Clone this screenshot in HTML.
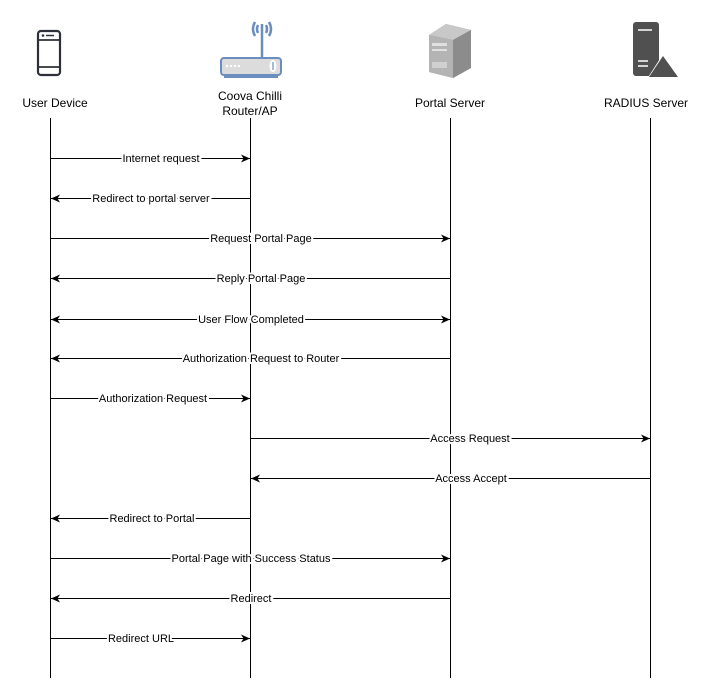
<!DOCTYPE html>
<html><head><meta charset="utf-8"><style>
html,body{margin:0;padding:0;background:#fff;}
svg{display:block;font-family:"Liberation Sans",sans-serif;}
</style></head><body>
<svg width="710" height="700" viewBox="0 0 710 700" xmlns="http://www.w3.org/2000/svg">
<defs>
<marker id="a" markerWidth="10" markerHeight="8" refX="9" refY="4" orient="auto" markerUnits="userSpaceOnUse">
<path d="M0,0 L9,4 L0,8 L2.5,4 Z" fill="#000"/>
</marker>
<marker id="b" markerWidth="10" markerHeight="8" refX="1" refY="4" orient="auto" markerUnits="userSpaceOnUse">
<path d="M10,0 L1,4 L10,8 L7.5,4 Z" fill="#000"/>
</marker>
</defs>
<!-- icons -->
<!-- phone -->
<rect x="38" y="31" width="22" height="44" rx="3" fill="none" stroke="#2d3038" stroke-width="2.2"/>
<line x1="38" y1="40" x2="60" y2="40" stroke="#2d3038" stroke-width="1.8"/>
<line x1="38" y1="67" x2="60" y2="67" stroke="#2d3038" stroke-width="1.8"/>
<circle cx="43" cy="35.5" r="1.3" fill="#2d3038"/>
<line x1="46" y1="35.5" x2="54" y2="35.5" stroke="#2d3038" stroke-width="1.5"/>
<!-- router -->
<line x1="262" y1="24" x2="262" y2="58" stroke="#6c8ebf" stroke-width="2.5"/>
<path d="M255,22 Q251,29 255,36 M269,22 Q273,29 269,36 M258,25 Q256,29 258,33 M266,25 Q268,29 266,33" stroke="#6c8ebf" stroke-width="2.5" fill="none"/>
<rect x="221" y="58" width="60" height="17" rx="3" fill="#dcdcdc" stroke="#6c8ebf" stroke-width="2"/>
<rect x="224" y="75" width="54" height="3" fill="#6c8ebf"/>
<circle cx="227" cy="66" r="1.2" fill="#fff"/><circle cx="231" cy="66" r="1.2" fill="#fff"/><circle cx="235" cy="66" r="1.2" fill="#fff"/><circle cx="239" cy="66" r="1.2" fill="#fff"/>
<ellipse cx="273" cy="66" rx="3.5" ry="6" fill="#fff"/>
<line x1="273" y1="62" x2="273" y2="70" stroke="#6c8ebf" stroke-width="1.2"/>
<!-- portal server -->
<polygon points="429,35 446,24 471,30 471,68 453,78 429,72" fill="#9a9a9a"/>
<polygon points="429,35 446,24 471,30 453,40" fill="#c8c8c8"/>
<polygon points="429,35 453,40 453,78 429,72" fill="#b4b4b4"/>
<polygon points="453,40 471,30 471,68 453,78" fill="#8c8c8c"/>
<rect x="432" y="43" width="15" height="3" fill="#e0e0e0"/>
<rect x="432" y="49" width="15" height="2" fill="#e0e0e0"/>
<rect x="432" y="62" width="15" height="6" fill="#d0d0d0"/>
<!-- radius -->
<rect x="633" y="22" width="26" height="54" rx="3" fill="#505050"/>
<line x1="638" y1="30" x2="652" y2="30" stroke="#fff" stroke-width="1.5"/>
<line x1="638" y1="61" x2="648" y2="61" stroke="#fff" stroke-width="1.5"/>
<line x1="638" y1="66" x2="648" y2="66" stroke="#fff" stroke-width="1.5"/>
<polygon points="663,54 647,79 679,79" fill="#fff"/>
<polygon points="663,56 649,77 678,77" fill="#505050"/>
<!-- headers -->
<g font-size="12" text-anchor="middle" fill="#000">
<text x="55" y="107">User Device</text>
<text x="250" y="100">Coova Chilli</text>
<text x="250" y="115">Router/AP</text>
<text x="450" y="107">Portal Server</text>
<text x="646" y="107">RADIUS Server</text>
</g>
<!-- lifelines -->
<g stroke="#000" stroke-width="1">
<line x1="50.5" y1="118" x2="50.5" y2="678"/>
<line x1="250.5" y1="118" x2="250.5" y2="678"/>
<line x1="450.5" y1="118" x2="450.5" y2="678"/>
<line x1="650.5" y1="118" x2="650.5" y2="678"/>
</g>
<!-- messages -->
<g stroke="#000" stroke-width="1" fill="none">
<line x1="51" y1="158.5" x2="250" y2="158.5" marker-end="url(#a)"/>
<line x1="250" y1="198.5" x2="51" y2="198.5" marker-end="url(#a)"/>
<line x1="51" y1="238.5" x2="450" y2="238.5" marker-end="url(#a)"/>
<line x1="450" y1="278.5" x2="51" y2="278.5" marker-end="url(#a)"/>
<line x1="51" y1="319.5" x2="450" y2="319.5" marker-start="url(#b)" marker-end="url(#a)"/>
<line x1="450" y1="358.5" x2="51" y2="358.5" marker-end="url(#a)"/>
<line x1="51" y1="398.5" x2="250" y2="398.5" marker-end="url(#a)"/>
<line x1="251" y1="438.5" x2="650" y2="438.5" marker-end="url(#a)"/>
<line x1="650" y1="478.5" x2="251" y2="478.5" marker-end="url(#a)"/>
<line x1="250" y1="518.5" x2="51" y2="518.5" marker-end="url(#a)"/>
<line x1="51" y1="558.5" x2="450" y2="558.5" marker-end="url(#a)"/>
<line x1="450" y1="598.5" x2="51" y2="598.5" marker-end="url(#a)"/>
<line x1="51" y1="638.5" x2="250" y2="638.5" marker-end="url(#a)"/>
</g>
<g font-size="11" text-anchor="middle" fill="#000" stroke="#fff" stroke-width="4" paint-order="stroke">
<text x="161" y="162">Internet request</text>
<text x="151" y="202">Redirect to portal server</text>
<text x="261" y="242">Request Portal Page</text>
<text x="261" y="282">Reply Portal Page</text>
<text x="251" y="323">User Flow Completed</text>
<text x="261" y="362">Authorization Request to Router</text>
<text x="153" y="402">Authorization Request</text>
<text x="470" y="442">Access Request</text>
<text x="471" y="482">Access Accept</text>
<text x="152" y="522">Redirect to Portal</text>
<text x="251" y="562">Portal Page with Success Status</text>
<text x="251" y="602">Redirect</text>
<text x="141" y="642">Redirect URL</text>
</g>
</svg>
</body></html>
